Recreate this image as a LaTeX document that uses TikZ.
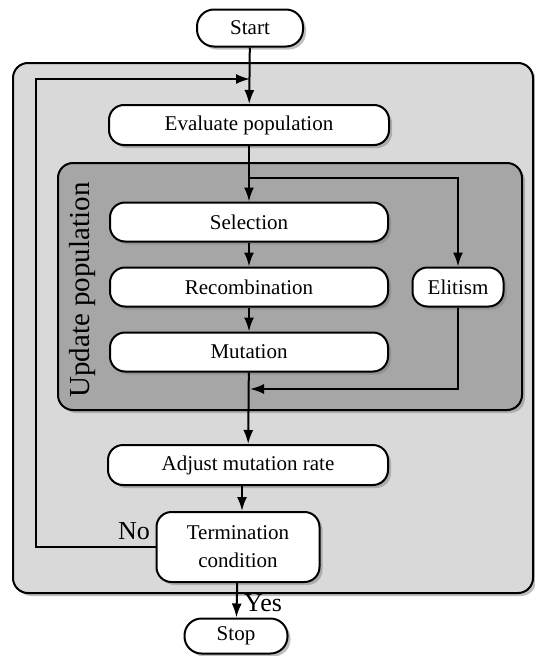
\documentclass[tikz,border=0pt]{standalone}
\usepackage{fontspec}
\setmainfont{Liberation Serif}
\usetikzlibrary{arrows.meta,shadows}
\definecolor{outerfill}{RGB}{217,217,217}
\definecolor{innerfill}{RGB}{166,166,166}
\begin{document}
\begin{tikzpicture}[x=1pt,y=-1pt,line width=2pt,
  shade/.style={drop shadow={shadow xshift=3pt,shadow yshift=-3pt,opacity=0.5}},
  stepbox/.style={draw,fill=white,rounded corners=15pt,shade,inner sep=2pt,
    font=\fontsize{21}{28}\selectfont,align=center},
  terminal/.style={stepbox,rounded corners=17pt},
  arr/.style={-{Latex[length=14pt,width=10pt]}},
  lbl/.style={font=\fontsize{26}{28}\selectfont,inner sep=0pt}]
\useasboundingbox (0,0) rectangle (535,656);
% background boxes
\node [draw,fill=outerfill,rounded corners=15pt,shade,minimum width=520,minimum height=530] (outer) at (273,328) {};
\node [draw,fill=innerfill,rounded corners=15pt,shade,minimum width=464,minimum height=247] (inner) at (290,286.5) {};
\node [rotate=90,font=\fontsize{29}{30}\selectfont] (upd) at (83,290) {Update population};
% steps
\node [terminal,minimum width=106,minimum height=37] (start) at (250,28) {Start};
\node [stepbox,minimum width=280,minimum height=40] (eval) at (249,125) {Evaluate population};
\node [stepbox,minimum width=278,minimum height=39] (sel) at (249,222) {Selection};
\node [stepbox,minimum width=278,minimum height=39] (rec) at (249,287) {Recombination};
\node [stepbox,minimum width=278,minimum height=39] (mut) at (249,352) {Mutation};
\node [stepbox,minimum width=91,minimum height=39] (elit) at (458,287) {Elitism};
\node [stepbox,minimum width=280,minimum height=40] (adj) at (248,465) {Adjust mutation rate};
\node [stepbox,minimum width=163,minimum height=70] (term) at (238,547) {Termination\\condition};
\node [terminal,minimum width=103,minimum height=35] (stop) at (236,636) {Stop};
% helper points
\coordinate (loopin) at (250,79);
\coordinate (loopcorner) at (36,79);
\coordinate (split) at (250,178);
\coordinate (merge) at (250,389);
% connectors
\draw [arr] (start) -- (eval);
\draw [arr] (term.west) -| (loopcorner) -- (loopin);
\draw [arr] (eval) -- (sel);
\draw [arr] (split) -| (elit.north);
\draw [arr] (sel) -- (rec);
\draw [arr] (rec) -- (mut);
\draw [arr] (mut) -- (adj);
\draw [arr] (elit.south) |- (merge);
\draw [arr] (adj.south -| 242,0) -- (term.north -| 242,0);
\draw [arr] (term) -- (stop);
\node [lbl] (no) at (134,531) {No};
\node [lbl] (yes) at (263,603) {Yes};
\end{tikzpicture}
\end{document}
